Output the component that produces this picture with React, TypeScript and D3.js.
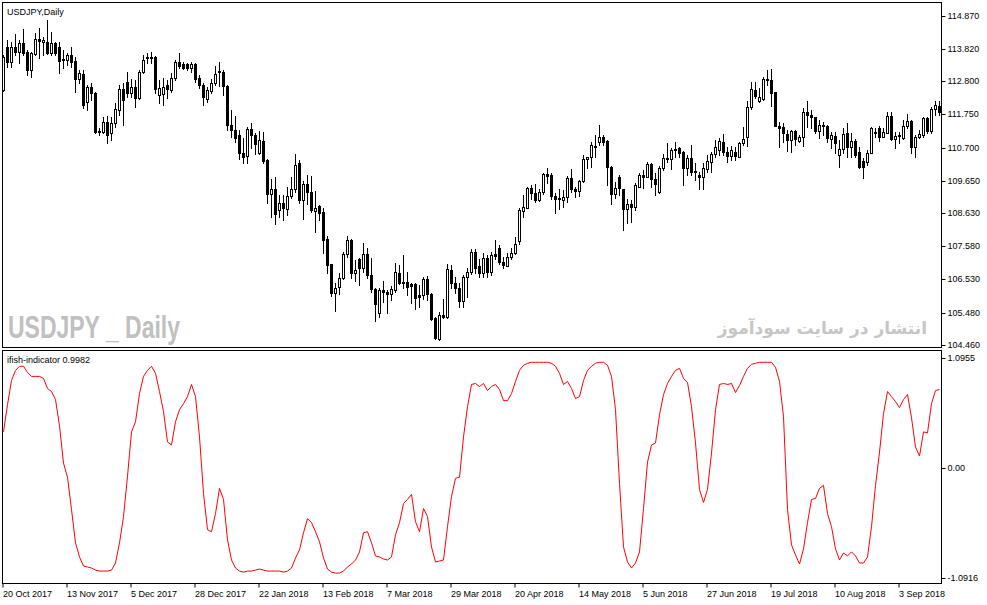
import React, { useEffect, useRef } from 'react';
import * as d3 from 'd3';

// USDJPY daily candles (index 0 = 20 Oct 2017)
const opens = [
  112.52, 113.88, 113.41, 113.88, 113.72, 114.01, 113.72, 113.16, 113.66, 114.14,
  114.04, 114.04, 113.69, 114.01, 113.88, 113.50, 113.47, 113.63, 113.44, 112.87,
  113.03, 112.14, 112.62, 112.43, 111.22, 111.19, 111.51, 111.16, 111.48, 111.89,
  112.55, 112.78, 112.43, 112.62, 112.27, 113.09, 113.54, 113.57, 113.57, 112.36,
  112.40, 112.68, 112.52, 112.90, 113.41, 113.35, 113.35, 113.22, 113.35, 112.90,
  112.68, 112.24, 112.49, 112.74, 113.09, 113.09, 112.65, 111.42, 111.26, 111.10,
  110.53, 110.43, 111.29, 111.10, 110.53, 110.91, 110.31, 109.23, 109.39, 108.73,
  108.95, 108.76, 109.17, 109.39, 110.21, 109.04, 109.55, 109.29, 108.69, 108.85,
  108.66, 107.81, 107.02, 106.10, 106.29, 106.57, 107.33, 107.78, 106.73, 107.18,
  106.89, 107.33, 106.67, 106.23, 105.47, 106.19, 106.13, 106.07, 106.19, 106.73,
  106.45, 106.45, 106.38, 106.38, 106.04, 106.04, 106.54, 106.07, 105.31, 104.64,
  105.40, 105.34, 106.83, 106.42, 106.26, 105.85, 106.61, 106.76, 107.40, 106.95,
  106.73, 107.21, 106.76, 107.33, 107.52, 107.08, 106.95, 107.24, 107.37, 107.75,
  108.69, 108.79, 109.42, 109.26, 109.04, 109.29, 109.86, 109.83, 109.17, 109.10,
  109.04, 109.14, 109.74, 109.39, 109.33, 109.64, 110.34, 110.40, 110.72, 110.88,
  111.04, 110.91, 110.09, 109.23, 109.77, 109.39, 108.76, 108.92, 108.82, 109.45,
  109.83, 109.77, 110.18, 109.71, 109.29, 110.05, 110.37, 110.34, 110.66, 110.69,
  110.56, 110.05, 110.37, 109.96, 109.83, 109.77, 110.02, 110.24, 110.50, 110.62,
  110.88, 110.56, 110.43, 110.56, 110.40, 110.85, 111.04, 111.98, 112.52, 112.17,
  112.24, 112.84, 112.84, 112.46, 111.38, 111.35, 111.13, 110.94, 111.22, 110.91,
  111.04, 111.83, 111.73, 111.67, 111.22, 111.42, 111.38, 110.97, 111.07, 110.47,
  110.66, 111.16, 110.72, 110.91, 110.56, 110.28, 110.24, 110.53, 111.19, 111.32,
  111.04, 111.16, 111.70, 110.97, 111.07, 111.00, 111.38, 111.54, 110.72, 111.04,
  111.10, 111.64, 111.22, 111.92, 112.02,
];

const highs = [
  113.63, 114.10, 114.04, 114.29, 114.10, 114.45, 113.79, 113.72, 114.33, 114.48,
  114.20, 114.74, 114.36, 114.04, 114.04, 113.79, 113.69, 113.88, 113.57, 113.16,
  113.16, 112.68, 112.74, 112.46, 111.32, 111.67, 111.70, 111.67, 112.11, 112.68,
  112.74, 113.09, 112.87, 112.84, 113.16, 113.63, 113.69, 113.72, 113.60, 112.84,
  112.90, 112.84, 113.06, 113.47, 113.69, 113.41, 113.38, 113.41, 113.38, 113.00,
  112.74, 112.62, 112.87, 113.28, 113.41, 113.16, 112.68, 111.89, 111.70, 111.26,
  111.00, 111.35, 111.48, 111.16, 111.22, 111.19, 110.34, 109.71, 109.77, 109.20,
  109.20, 109.45, 109.77, 110.50, 110.31, 109.64, 109.83, 109.80, 109.33, 108.88,
  108.79, 107.90, 107.02, 106.42, 106.73, 107.40, 107.90, 107.81, 107.14, 107.20,
  107.68, 107.52, 107.21, 106.26, 106.26, 106.48, 106.19, 106.32, 107.05, 106.98,
  107.30, 106.76, 106.42, 106.42, 106.35, 106.61, 106.64, 106.10, 105.34, 105.50,
  105.91, 107.02, 106.98, 106.61, 106.42, 106.67, 106.89, 107.49, 107.49, 107.17,
  107.37, 107.30, 107.40, 107.78, 107.62, 107.24, 107.37, 107.52, 107.87, 108.79,
  109.20, 109.45, 109.52, 109.55, 109.39, 109.90, 110.05, 109.90, 109.26, 109.39,
  109.36, 109.80, 110.02, 109.45, 109.67, 110.47, 110.40, 110.88, 111.10, 111.42,
  111.10, 110.94, 110.12, 109.61, 109.83, 109.39, 109.07, 109.04, 109.58, 109.90,
  109.99, 110.24, 110.21, 109.90, 110.12, 110.50, 110.85, 110.69, 110.88, 110.72,
  110.59, 110.47, 110.78, 110.21, 109.93, 110.21, 110.47, 110.56, 110.94, 111.00,
  111.13, 110.72, 110.75, 110.72, 110.88, 111.35, 112.17, 112.78, 112.78, 112.59,
  112.93, 113.16, 113.19, 112.46, 111.51, 111.48, 111.26, 111.26, 111.26, 111.10,
  111.95, 112.17, 111.89, 111.67, 111.57, 111.51, 111.42, 111.19, 111.19, 110.94,
  111.32, 111.48, 111.16, 110.97, 110.72, 110.37, 110.62, 111.35, 111.32, 111.38,
  111.32, 111.83, 111.83, 111.19, 111.19, 111.57, 111.76, 111.57, 111.10, 111.26,
  111.67, 111.67, 111.98, 112.17, 112.17,
];

const lows = [
  112.49, 113.25, 113.25, 113.63, 113.38, 113.63, 113.00, 112.93, 113.63, 113.54,
  113.63, 113.66, 113.63, 113.63, 113.06, 113.22, 113.31, 113.25, 112.46, 112.74,
  111.95, 111.89, 112.21, 111.16, 111.10, 111.16, 110.85, 110.94, 111.35, 111.73,
  111.42, 112.30, 112.30, 111.98, 112.24, 113.06, 113.38, 113.38, 112.43, 112.11,
  112.05, 112.27, 112.46, 112.84, 113.22, 113.20, 113.16, 113.09, 112.78, 112.59,
  112.05, 112.14, 112.43, 112.68, 112.65, 112.36, 111.26, 111.04, 110.88, 110.34,
  110.21, 110.21, 110.69, 110.50, 110.50, 110.21, 108.95, 108.50, 108.28, 108.50,
  108.41, 108.57, 109.10, 109.29, 108.95, 108.44, 108.92, 108.66, 108.03, 108.41,
  107.37, 106.73, 106.00, 105.53, 106.07, 106.54, 107.24, 106.57, 106.48, 106.35,
  106.76, 106.57, 106.13, 105.21, 105.34, 105.81, 105.47, 105.88, 106.13, 106.38,
  106.26, 106.04, 105.78, 105.59, 105.66, 105.91, 105.88, 105.25, 104.64, 104.61,
  105.31, 105.31, 106.26, 106.10, 105.66, 105.66, 105.97, 106.70, 106.73, 106.61,
  106.61, 106.61, 106.67, 107.17, 107.02, 106.89, 106.95, 107.17, 107.33, 107.65,
  108.50, 108.79, 109.07, 108.98, 109.01, 109.23, 109.58, 109.07, 108.63, 108.76,
  108.82, 108.98, 109.29, 109.14, 109.17, 109.61, 110.05, 110.09, 110.40, 110.78,
  110.78, 109.52, 108.92, 109.10, 109.20, 108.09, 108.31, 108.35, 108.73, 109.45,
  109.42, 109.77, 109.45, 109.20, 109.26, 109.99, 110.24, 110.02, 110.40, 110.40,
  109.52, 109.83, 109.83, 109.67, 109.39, 109.39, 109.93, 109.93, 110.40, 110.47,
  110.47, 110.25, 110.31, 110.31, 110.40, 110.78, 110.75, 111.92, 112.27, 112.14,
  112.21, 112.68, 112.02, 111.38, 110.72, 110.88, 110.59, 110.56, 110.78, 110.88,
  110.75, 111.35, 111.32, 111.16, 111.00, 111.10, 110.88, 110.69, 110.53, 110.09,
  110.53, 110.40, 110.40, 110.40, 110.05, 109.74, 110.15, 110.53, 111.04, 110.91,
  111.04, 111.16, 110.94, 110.69, 110.85, 110.97, 111.32, 110.53, 110.40, 111.00,
  111.04, 111.16, 111.16, 111.73, 111.73,
];

const closes = [
  113.57, 113.41, 113.88, 113.72, 114.01, 113.69, 113.16, 113.69, 114.14, 114.07,
  114.10, 113.69, 114.01, 113.69, 113.44, 113.47, 113.63, 113.41, 112.87, 113.06,
  112.05, 112.62, 112.43, 111.19, 111.19, 111.51, 111.10, 111.48, 111.92, 112.55,
  112.21, 112.43, 112.62, 112.27, 113.09, 113.47, 113.57, 113.54, 112.55, 112.59,
  112.62, 112.55, 112.90, 113.41, 113.28, 113.22, 113.22, 113.35, 112.87, 112.68,
  112.30, 112.52, 112.74, 113.03, 113.12, 112.65, 111.42, 111.26, 111.00, 110.53,
  110.40, 111.29, 111.10, 110.81, 110.94, 110.28, 109.23, 109.39, 108.60, 108.95,
  108.79, 109.17, 109.39, 110.15, 109.04, 109.55, 109.29, 108.73, 108.79, 108.63,
  107.78, 106.98, 106.10, 106.26, 106.57, 107.33, 107.78, 106.73, 106.83, 106.89,
  107.33, 106.67, 106.23, 105.75, 106.19, 106.13, 106.07, 106.23, 106.76, 106.42,
  106.42, 106.29, 106.32, 105.94, 105.97, 106.54, 106.07, 105.28, 104.67, 105.40,
  105.34, 106.86, 106.42, 106.26, 105.85, 106.61, 106.76, 107.40, 106.89, 106.73,
  107.21, 106.76, 107.30, 107.27, 107.08, 106.98, 107.24, 107.37, 107.65, 108.73,
  108.82, 109.42, 109.26, 109.04, 109.29, 109.86, 109.80, 109.17, 109.07, 109.07,
  109.14, 109.74, 109.39, 109.33, 109.64, 110.34, 110.40, 110.78, 110.75, 111.04,
  110.88, 110.09, 109.23, 109.42, 109.42, 108.76, 108.92, 108.82, 109.52, 109.83,
  109.77, 110.18, 109.71, 109.55, 110.05, 110.37, 110.34, 110.62, 110.62, 110.53,
  110.05, 110.37, 109.93, 109.93, 109.77, 110.05, 110.28, 110.50, 110.72, 110.91,
  110.56, 110.43, 110.62, 110.43, 110.85, 110.97, 111.98, 112.55, 112.33, 112.30,
  112.87, 112.87, 112.43, 111.38, 111.32, 111.16, 110.94, 111.22, 110.97, 111.04,
  111.83, 111.73, 111.67, 111.22, 111.42, 111.38, 111.00, 111.10, 110.85, 110.66,
  111.13, 110.72, 110.91, 110.47, 110.09, 110.09, 110.53, 111.32, 111.16, 111.04,
  111.19, 111.70, 110.97, 111.07, 111.10, 111.38, 111.54, 110.72, 111.04, 111.13,
  111.64, 111.22, 111.92, 112.05, 111.83,
];

// ifish-indicator, one value per bar
const ifish = [
  0.36, 0.63, 0.87, 0.97, 1.01, 1.01, 0.95, 0.91, 0.91, 0.91,
  0.89, 0.79, 0.76, 0.68, 0.42, 0.05, -0.09, -0.41, -0.74, -0.88,
  -0.97, -0.98, -0.99, -1.01, -1.02, -1.02, -1.02, -1.01, -0.94, -0.74,
  -0.48, -0.08, 0.36, 0.46, 0.74, 0.91, 0.97, 1.01, 0.94, 0.76,
  0.56, 0.26, 0.23, 0.46, 0.58, 0.64, 0.71, 0.83, 0.71, 0.31,
  -0.25, -0.61, -0.63, -0.45, -0.20, -0.31, -0.71, -0.91, -0.99, -1.02,
  -1.03, -1.02, -1.02, -1.01, -1.00, -1.01, -1.02, -1.02, -1.02, -1.02,
  -1.03, -1.02, -0.99, -0.89, -0.81, -0.64, -0.50, -0.54, -0.63, -0.73,
  -0.89, -1.00, -1.03, -1.04, -1.04, -1.02, -0.98, -0.95, -0.91, -0.83,
  -0.64, -0.63, -0.74, -0.87, -0.88, -0.90, -0.91, -0.88, -0.66, -0.54,
  -0.35, -0.31, -0.26, -0.53, -0.63, -0.40, -0.48, -0.78, -0.93, -0.92,
  -0.91, -0.58, -0.28, -0.10, -0.09, 0.31, 0.61, 0.83, 0.84, 0.81,
  0.84, 0.77, 0.81, 0.83, 0.78, 0.67, 0.67, 0.74, 0.86, 0.97,
  1.02, 1.04, 1.05, 1.05, 1.05, 1.05, 1.05, 1.04, 1.01, 0.94,
  0.83, 0.86, 0.79, 0.69, 0.71, 0.87, 0.97, 1.01, 1.04, 1.05,
  1.05, 1.02, 0.91, 0.58, -0.15, -0.78, -0.93, -0.99, -0.94, -0.83,
  -0.40, 0.06, 0.23, 0.25, 0.53, 0.73, 0.84, 0.91, 0.97, 0.99,
  0.89, 0.85, 0.61, 0.25, -0.21, -0.34, -0.21, 0.15, 0.58, 0.83,
  0.84, 0.83, 0.84, 0.75, 0.82, 0.91, 0.99, 1.03, 1.04, 1.05,
  1.05, 1.05, 1.05, 1.00, 0.86, 0.51, -0.41, -0.76, -0.86, -0.95,
  -0.80, -0.54, -0.31, -0.30, -0.20, -0.17, -0.45, -0.58, -0.80, -0.91,
  -0.84, -0.87, -0.83, -0.87, -0.94, -0.94, -0.88, -0.58, -0.17, 0.16,
  0.54, 0.76, 0.71, 0.66, 0.60, 0.68, 0.73, 0.50, 0.21, 0.12,
  0.36, 0.35, 0.64, 0.77, 0.78,
];

const priceTicks = [114.87, 113.82, 112.8, 111.75, 110.7, 109.65, 108.63, 107.58, 106.53, 105.48, 104.46];
const ifishTicks = [1.0955, 0, -1.0916];
const ifishTickLabels = ['1.0955', '0.00', '-1.0916'];
const dateLabels = [
  '20 Oct 2017', '13 Nov 2017', '5 Dec 2017', '28 Dec 2017', '22 Jan 2018',
  '13 Feb 2018', '7 Mar 2018', '29 Mar 2018', '20 Apr 2018', '14 May 2018',
  '5 Jun 2018', '27 Jun 2018', '19 Jul 2018', '10 Aug 2018', '3 Sep 2018',
];
const BARS_PER_LABEL = 16;

const W = 987;
const H = 605;
const FONT = "'Liberation Sans', Arial, sans-serif";

export default function App() {
  const svgRef = useRef<SVGSVGElement | null>(null);

  useEffect(() => {
    if (!svgRef.current) return;
    const svg = d3.select(svgRef.current);
    svg.selectAll('*').remove();

    const n = closes.length;
    const x = d3.scaleLinear().domain([0, n - 1]).range([3.5, 3.5 + 4 * (n - 1)]);
    const y = d3.scaleLinear().domain([104.46, 114.87]).range([344.8, 15.8]).interpolate(d3.interpolateRound);
    const yi = d3.scaleLinear().domain([-1.0916, 1.0955]).range([578.3, 357.7]);

    svg.append('rect').attr('width', W).attr('height', H).attr('fill', '#ffffff');

    // watermarks
    svg.append('text')
      .attr('x', 8).attr('y', 338)
      .attr('font-family', "'Liberation Sans Narrow', 'Liberation Sans', Arial, sans-serif")
      .attr('font-weight', 'bold').attr('font-size', 31)
      .attr('fill', '#c0c0c0')
      .attr('textLength', 172).attr('lengthAdjust', 'spacingAndGlyphs')
      .text('USDJPY _ Daily');
    svg.append('text')
      .attr('x', 927).attr('y', 334)
      .attr('text-anchor', 'end')
      .attr('font-family', "'DejaVu Sans', sans-serif")
      .attr('font-weight', 'bold').attr('font-size', 17)
      .attr('fill', '#c6c6c6')
      .text('انتشار در سایت سودآموز');

    // candles
    svg.append('clipPath').attr('id', 'mainClip')
      .append('rect').attr('x', 3).attr('y', 3).attr('width', 938).attr('height', 344);
    const cg = svg.append('g').attr('clip-path', 'url(#mainClip)').attr('shape-rendering', 'crispEdges');
    const idx = d3.range(n);

    cg.selectAll('line.wick').data(idx).enter().append('line')
      .attr('x1', (i) => x(i)).attr('x2', (i) => x(i))
      .attr('y1', (i) => y(highs[i]))
      .attr('y2', (i) => y(lows[i]) + 1)
      .attr('stroke', '#000').attr('stroke-width', 1);

    cg.selectAll('rect.body').data(idx).enter().append('rect')
      .attr('x', (i) => (closes[i] >= opens[i] ? x(i) - 1 : x(i) - 1.5))
      .attr('y', (i) => {
        const top = y(Math.max(opens[i], closes[i]));
        return closes[i] >= opens[i] ? top + 0.5 : top;
      })
      .attr('width', (i) => (closes[i] >= opens[i] ? 2 : 3))
      .attr('height', (i) => {
        const top = y(Math.max(opens[i], closes[i]));
        const bot = y(Math.min(opens[i], closes[i]));
        return closes[i] >= opens[i] ? Math.max(0, bot - top) : Math.max(1, bot - top + 1);
      })
      .attr('fill', (i) => (closes[i] >= opens[i] ? '#ffffff' : '#000000'))
      .attr('stroke', (i) => (closes[i] >= opens[i] ? '#000000' : 'none'))
      .attr('stroke-width', 1);

    // indicator line
    svg.append('clipPath').attr('id', 'subClip')
      .append('rect').attr('x', 3).attr('y', 351).attr('width', 938).attr('height', 232);
    const line = d3.line<number>().x((_, i) => x(i)).y((d) => yi(d));
    svg.append('path')
      .datum(ifish)
      .attr('clip-path', 'url(#subClip)')
      .attr('d', line)
      .attr('fill', 'none')
      .attr('stroke', '#ff0000')
      .attr('stroke-width', 1);

    // frames
    svg.append('rect').attr('x', 2.5).attr('y', 2.5).attr('width', 939).attr('height', 345)
      .attr('fill', 'none').attr('stroke', '#000');
    svg.append('rect').attr('x', 2.5).attr('y', 350.5).attr('width', 939).attr('height', 233)
      .attr('fill', 'none').attr('stroke', '#000');

    // price axis
    const pa = svg.append('g').attr('transform', 'translate(941.5,0)')
      .call(d3.axisRight(y).tickValues(priceTicks).tickFormat(d3.format('.3f')).tickSize(4).tickPadding(2));
    pa.select('.domain').remove();

    // indicator axis
    const yiR = yi.copy().interpolate(d3.interpolateRound);
    const ia = svg.append('g').attr('transform', 'translate(941.5,0)')
      .call(d3.axisRight(yiR).tickValues(ifishTicks)
        .tickFormat((d, k) => ifishTickLabels[k]).tickSize(4).tickPadding(2));
    ia.select('.domain').remove();

    // date axis
    const dateIdx = dateLabels.map((_, k) => k * BARS_PER_LABEL);
    const da = svg.append('g').attr('transform', 'translate(0,583.5)')
      .call(d3.axisBottom(x).tickValues(dateIdx)
        .tickFormat((d, k) => dateLabels[k]).tickSize(4).tickPadding(3).offset(-0.5));
    da.select('.domain').remove();
    da.selectAll('text').attr('text-anchor', 'start').attr('x', 0);

    [pa, ia, da].forEach((g) => {
      g.attr('font-family', FONT).attr('font-size', 9);
      g.selectAll('text').attr('fill', '#000');
      g.selectAll('line').attr('stroke', '#000');
    });

    // titles
    svg.append('text').attr('x', 7).attr('y', 15)
      .attr('font-family', FONT).attr('font-size', 9).attr('fill', '#000')
      .text('USDJPY,Daily');
    svg.append('text').attr('x', 7).attr('y', 363)
      .attr('font-family', FONT).attr('font-size', 9).attr('fill', '#000')
      .text('ifish-indicator 0.9982');
  }, []);

  return (
    <div style={{ position: 'absolute', left: 0, top: 0, width: W, height: H, background: '#fff' }}>
      <svg ref={svgRef} width={W} height={H} style={{ display: 'block' }} />
    </div>
  );
}
